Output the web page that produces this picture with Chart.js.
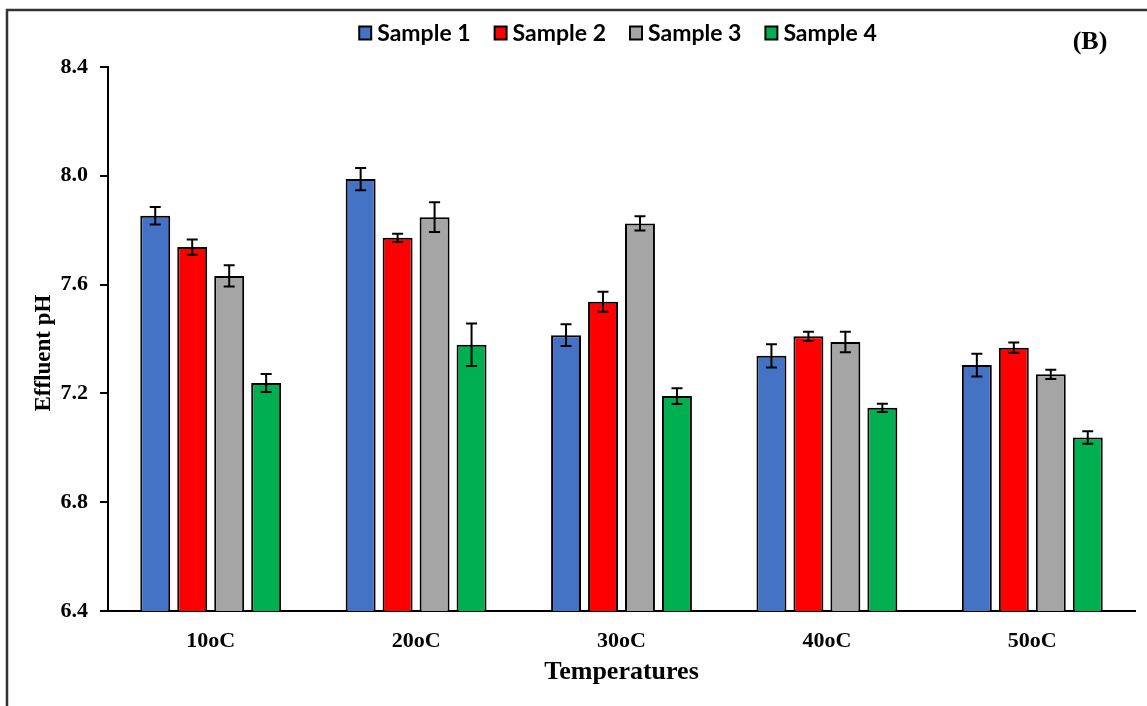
<!DOCTYPE html>
<html>
<head>
<meta charset="utf-8">
<title>Effluent pH</title>
<script src="https://cdn.jsdelivr.net/npm/chart.js@4/dist/chart.umd.min.js"></script>
<style>
    html, body { margin: 0; padding: 0; background: #fff; }
    canvas { display: block; }
</style>
</head>
<body>
<canvas id="chart-ph" width="1147" height="706"></canvas>
<script>
// Chart values
const categories = ['10oC', '20oC', '30oC', '40oC', '50oC'];
const seriesNames = ['Sample 1', 'Sample 2', 'Sample 3', 'Sample 4'];
const sample1 = [7.853, 7.988, 7.414, 7.338, 7.304];
const sample2 = [7.738, 7.772, 7.537, 7.410, 7.368];
const sample3 = [7.632, 7.848, 7.825, 7.389, 7.270];
const sample4 = [7.238, 7.379, 7.190, 7.147, 7.038];
const err1 = [0.032, 0.041, 0.040, 0.043, 0.042];
const err2 = [0.028, 0.015, 0.037, 0.017, 0.019];
const err3 = [0.039, 0.055, 0.026, 0.038, 0.017];
const err4 = [0.033, 0.078, 0.029, 0.015, 0.023];
const yTicks = [6.4, 6.8, 7.2, 7.6, 8.0, 8.4];

const colors = ['#4472C4', '#FF0000', '#A5A5A5', '#00B050'];
const serif = '"Liberation Serif", "Times New Roman", serif';

// Error bars drawn from the y scale of the chart
const errorBars = {
    id: 'errorBars',
    afterDatasetsDraw(chart) {
        const ctx = chart.ctx;
        const y = chart.scales.y;
        ctx.save();
        ctx.strokeStyle = '#000';
        ctx.lineWidth = 2;
        chart.data.datasets.forEach((ds, i) => {
            const meta = chart.getDatasetMeta(i);
            meta.data.forEach((bar, j) => {
                const v = ds.data[j];
                const e = ds.errors[j];
                const top = y.getPixelForValue(v + e);
                const bot = y.getPixelForValue(v - e);
                ctx.beginPath();
                ctx.moveTo(bar.x, top);
                ctx.lineTo(bar.x, bot);
                ctx.moveTo(bar.x - 5.5, top);
                ctx.lineTo(bar.x + 5.5, top);
                ctx.moveTo(bar.x - 5.5, bot);
                ctx.lineTo(bar.x + 5.5, bot);
                ctx.stroke();
            });
        });
        ctx.restore();
    }
};

// Frame, legend, y title and panel letter
const decorations = {
    id: 'decorations',
    beforeDraw(chart) {
        const ctx = chart.ctx;
        ctx.save();
        ctx.fillStyle = '#fff';
        ctx.fillRect(0, 0, chart.width, chart.height);
        ctx.strokeStyle = '#333';
        ctx.lineWidth = 2.5;
        ctx.beginPath();
        ctx.moveTo(7, chart.height);
        ctx.lineTo(7, 10);
        ctx.lineTo(chart.width, 10);
        ctx.stroke();
        ctx.restore();
    },
    afterDraw(chart) {
        const ctx = chart.ctx;
        ctx.save();
        ctx.font = 'bold 23px Lato, "Open Sans", sans-serif';
        ctx.textBaseline = 'middle';
        const box = 12, gap = 6, spacing = 24;
        const widths = seriesNames.map(n => ctx.measureText(n).width);
        const total = widths.reduce((a, w) => a + box + gap + w, 0) + spacing * (seriesNames.length - 1);
        let x = 618 - total / 2;
        const cy = 33;
        seriesNames.forEach((name, i) => {
            ctx.fillStyle = colors[i];
            ctx.fillRect(x, cy - 6.5, box, 13);
            ctx.strokeStyle = '#000';
            ctx.lineWidth = 2;
            ctx.strokeRect(x, cy - 6.5, box, 13);
            ctx.fillStyle = '#000';
            ctx.fillText(name, x + box + gap, cy + 1);
            x += box + gap + widths[i] + spacing;
        });

        ctx.font = 'bold 26px ' + serif;
        ctx.textAlign = 'center';
        ctx.fillText('(B)', 1090, 42);

        // y axis title
        ctx.save();
        ctx.translate(44, 353);
        ctx.rotate(-Math.PI / 2);
        ctx.font = 'bold 23px ' + serif;
        ctx.fillText('Effluent pH', 0, 0);
        ctx.restore();
        ctx.restore();
    }
};

const seriesValues = [sample1, sample2, sample3, sample4];
const seriesErrors = [err1, err2, err3, err4];

new Chart(document.getElementById('chart-ph'), {
    type: 'bar',
    data: {
        labels: categories,
        datasets: seriesNames.map((name, i) => ({
            label: name,
            data: seriesValues[i],
            errors: seriesErrors[i],
            backgroundColor: colors[i],
            borderColor: '#000',
            borderWidth: 2,
            borderSkipped: false,
            categoryPercentage: 0.72,
            barPercentage: 0.81
        }))
    },
    options: {
        responsive: false,
        animation: false,
        layout: { padding: { top: 67, left: 20, right: 12, bottom: 0 } },
        plugins: {
            legend: { display: false },
            tooltip: { enabled: false }
        },
        scales: {
            x: {
                grid: { display: false },
                border: { display: true, color: '#000', width: 2 },
                ticks: {
                    color: '#000',
                    padding: 9,
                    font: { family: serif, size: 22, weight: 'bold' }
                },
                title: {
                    display: true,
                    text: 'Temperatures',
                    color: '#000',
                    padding: { top: 4, bottom: 18 },
                    font: { family: serif, size: 26, weight: 'bold' }
                },
                afterFit(scale) { scale.height = 95; }
            },
            y: {
                min: 6.4,
                max: 8.4,
                afterBuildTicks(scale) { scale.ticks = yTicks.map(v => ({ value: v })); },
                grid: {
                    drawOnChartArea: false,
                    drawTicks: true,
                    tickLength: 8,
                    color: '#000',
                    lineWidth: 2
                },
                border: { display: true, color: '#000', width: 2 },
                ticks: {
                    color: '#000',
                    padding: 12,
                    font: { family: serif, size: 22, weight: 'bold' },
                    callback: v => Number(v).toFixed(1)
                },
                afterFit(scale) { scale.width = 88; }
            }
        }
    },
    plugins: [decorations, errorBars]
});
</script>
</body>
</html>
